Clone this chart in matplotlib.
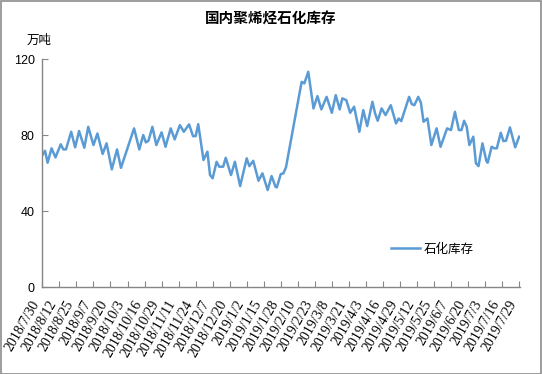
import pandas as pd
import numpy as np
import matplotlib
matplotlib.use('Agg')
import matplotlib.pyplot as plt
import matplotlib.dates as mdates
from matplotlib.patches import Rectangle
from matplotlib.transforms import ScaledTranslation

plt.rcParams['font.family'] = ['Noto Sans CJK SC', 'DejaVu Sans']

# days counted from 2018/7/30 (万吨)
start = pd.Timestamp('2018-07-30')
day = [0, 2, 4, 7, 10, 14, 16, 18, 22, 25, 28, 32, 35, 39, 42, 46, 49, 53, 57, 60,
       70, 74, 77, 79, 81, 84, 87, 91, 94, 98, 101, 105, 108, 112, 115, 117, 119,
       123, 126, 128, 130, 133, 135, 138, 140, 144, 147, 151, 156, 158, 161, 165,
       168, 172, 175, 178, 179, 182, 184, 186, 197, 198, 200, 203, 207, 210, 213,
       217, 221, 224, 227, 229, 232, 235, 238, 242, 245, 248, 252, 254, 256, 259,
       262, 266, 270, 272, 274, 280, 282, 284, 287, 289, 291, 294, 297, 301, 304,
       309, 312, 315, 318, 320, 322, 324, 326, 329, 331, 333, 336, 339, 340, 343,
       345, 347, 350, 352, 354, 357, 361, 364]
stock = [69.6, 71.9, 65.6, 73.2, 68.4, 75.3, 72.6, 72.6, 81.9, 73.7, 82.3, 73.5,
         84.5, 74.9, 81.0, 70.2, 75.8, 62.1, 72.6, 62.9,
         83.7, 72.6, 80.2, 76.3, 77.2, 84.5, 74.9, 81.6, 74.0, 83.7, 77.9, 85.4,
         81.9, 85.8, 79.6, 79.6, 85.9,
         67.0, 71.4, 59.1, 57.4, 66.1, 63.5, 63.5, 68.2, 59.1, 66.1, 53.3, 67.9,
         63.8, 66.6, 56.1,
         60.0, 51.2, 58.6, 52.9, 52.6, 59.6, 60.0, 63.2, 104.7, 108.2, 107.4, 113.5,
         94.2, 100.7, 93.7,
         100.3, 91.9, 101.2, 93.7, 99.5, 98.6, 91.9, 95.1, 81.9, 93.3, 84.9, 97.7,
         91.6, 87.7, 94.2,
         90.7, 95.9, 86.3, 88.9, 87.5, 100.3, 96.5, 95.9, 100.3, 97.2, 87.2, 88.9,
         74.9, 83.7, 74.0,
         83.7, 82.8, 92.4, 82.8, 82.8, 87.7, 84.5, 74.9, 79.3, 65.3, 63.8, 75.8,
         66.5, 65.6, 74.0,
         73.2, 73.2, 81.4, 77.0, 77.2, 84.2, 73.7, 79.3]
dates = start + pd.to_timedelta(day, unit='D')

tick_dates = pd.date_range('2018-07-30', '2019-07-29', freq='13D')
tick_labels = [f"{d.year}/{d.month}/{d.day}" for d in tick_dates]

fig = plt.figure(figsize=(5.42, 3.74), dpi=100)
ax = fig.add_axes([0.077, 0.232, 0.882, 0.609])

ax.plot(dates, stock, color='#5B9BD5', lw=1.8, label='石化库存')

ax.set_xlim(start - pd.Timedelta(hours=12), pd.Timestamp('2019-07-29') + pd.Timedelta(hours=12))
ax.set_ylim(0, 120)
ax.set_yticks([0, 40, 80, 120])
ax.set_xticks(tick_dates)
ax.set_xticklabels(tick_labels, rotation=60, ha='right', va='top',
                   family='Liberation Serif', fontsize=10)
for lab in ax.get_xticklabels():
    lab.set_transform(lab.get_transform() + ScaledTranslation(0.085, 0, fig.dpi_scale_trans))
for lab in ax.get_yticklabels():
    lab.set_family('Liberation Sans')
    lab.set_fontsize(9)

for s in ['top', 'right']:
    ax.spines[s].set_visible(False)
for s in ['left', 'bottom']:
    ax.spines[s].set_color('#868686')
    ax.spines[s].set_linewidth(1)
ax.tick_params(axis='both', direction='in', length=4, color='#868686')
ax.tick_params(axis='x', pad=8)
ax.tick_params(axis='y', pad=5)

fig.text(0.5, 1 - 19 / 374, '国内聚烯烃石化库存', ha='center', va='center',
         fontsize=10.5, fontweight='bold')
fig.text(27 / 542, 1 - 40 / 374, '万吨', ha='left', va='center', fontsize=9)

ax.legend(loc='center left', bbox_to_anchor=(391 / 542, 1 - 249 / 374),
          bbox_transform=fig.transFigure, frameon=False, borderpad=0,
          borderaxespad=0, handlelength=2.3, handletextpad=0.35, fontsize=9)

fig.patches.append(Rectangle((0.001, 0.001), 0.997, 0.996, transform=fig.transFigure,
                             fill=False, edgecolor='#8c8c8c', lw=1.2))

fig.savefig('out.png', dpi=100)
